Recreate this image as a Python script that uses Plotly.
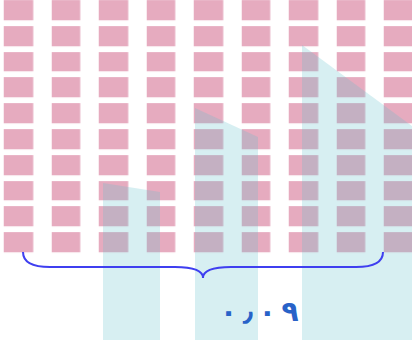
import plotly.graph_objects as go

# ---- data ----
grid_columns = list(range(9))          # 9 columns of squares
grid_rows = list(range(10))            # 10 squares per column
square_value = [[1] * len(grid_columns) for _ in grid_rows]
label_text = "٠٫٠٩"                    # 0.09 in Arabic-Indic digits

W, H = 412, 340

# pixel geometry of the grid (for axis ranges)
col_pitch, col_first = 47.5, 18.5
row_pitch, row_first = 25.8, 11.0

def px(x):
    return x / W

def py(y):
    return 1 - y / H

fig = go.Figure()
fig.add_trace(go.Heatmap(
    x=grid_columns, y=grid_rows, z=square_value,
    colorscale=[[0, "#e6abbf"], [1, "#e6abbf"]],
    showscale=False, xgap=18.5, ygap=5.8, hoverinfo="skip",
))

# light cyan background bars (decoration)
deco = [
    [(103, 183), (160, 192)],
    [(195, 108), (258, 137)],
    [(302, 45), (412, 126)],
]
shapes = []
for (x0, y0), (x1, y1) in deco:
    path = (f"M {px(x0)},{py(y0)} L {px(x1)},{py(y1)} L {px(x1)},{py(H)} "
            f"L {px(x0)},{py(H)} Z")
    shapes.append(dict(type="path", xref="paper", yref="paper", path=path,
                       fillcolor="rgba(100,195,205,0.26)", line=dict(width=0),
                       layer="above"))

# brace
pts = [
    ("M", [(23, 252)]),
    ("Q", [(23, 267), (50, 267)]),
    ("L", [(175, 267)]),
    ("Q", [(203, 267), (203, 278)]),
    ("Q", [(203, 267), (231, 267)]),
    ("L", [(356, 267)]),
    ("Q", [(383, 267), (383, 252)]),
]
bpath = " ".join(c + " " + " ".join(f"{px(a)},{py(b)}" for a, b in p) for c, p in pts)
shapes.append(dict(type="path", xref="paper", yref="paper", path=bpath,
                   line=dict(color="#3f3ff0", width=2), layer="above"))

# keep digits in left-to-right visual order, with a little tracking
spaced = "\u202D" + "\u2009".join(label_text) + "\u202C"

fig.update_layout(
    width=W, height=H, margin=dict(l=0, r=0, t=0, b=0),
    paper_bgcolor="white", plot_bgcolor="white",
    showlegend=False, shapes=shapes,
    xaxis=dict(range=[(0 - col_first) / col_pitch, (W - col_first) / col_pitch],
               visible=False, fixedrange=True),
    yaxis=dict(range=[(H - row_first) / row_pitch, (0 - row_first) / row_pitch],
               visible=False, fixedrange=True),
    annotations=[dict(text="<b>" + spaced + "</b>", xref="paper", yref="paper",
                      x=px(259), y=py(311), xanchor="center", yanchor="middle",
                      showarrow=False,
                      font=dict(family="DejaVu Sans", size=28, color="#2862c8"))],
)

fig.write_html("out.html", config={"displayModeBar": False},
               post_script="document.body.style.margin='0';document.body.style.overflow='hidden';")
